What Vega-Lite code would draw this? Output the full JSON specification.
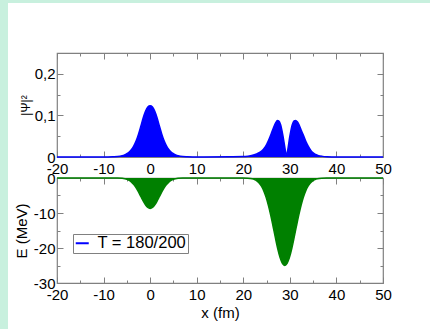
{
  "$schema": "https://vega.github.io/schema/vega-lite/v6.json",
  "padding": 0,
  "background": "white",
  "config": {
    "font": "Liberation Sans",
    "view": {"stroke": "#808080", "strokeWidth": 1.2},
    "axis": {"domain": false, "grid": false, "tickColor": "#808080", "labelColor": "black", "titleColor": "black", "titleFontWeight": "normal", "labelFlush": false, "labelOverlap": false, "labelBound": false, "zindex": 1}
  },
  "spacing": 0,
  "bounds": "flush",
  "vconcat": [
    {"width": 430, "height": 3, "data": {"values": []}, "mark": "point", "view": {"fill": "#c8f0de", "stroke": null}},
    {
      "spacing": 49,
      "bounds": "flush",
      "hconcat": [
        {"width": 8, "height": 326, "data": {"values": []}, "mark": "point", "view": {"fill": "#c8f0de", "stroke": null}},
        {
          "spacing": 0,
          "bounds": "flush",
          "vconcat": [
            {"width": 326, "height": 50, "data": {"values": []}, "mark": "point", "view": {"stroke": null}},
            {
              "spacing": 21,
              "bounds": "flush",
              "vconcat": [
                {
                  "width": 326,
                  "height": 104,
                  "data": {"values": [
                    {"x": -20, "p": 0}, {"x": -10, "p": 0}, {"x": -8, "p": 0.0005}, {"x": -7, "p": 0.001}, {"x": -6, "p": 0.003},
                    {"x": -5.5, "p": 0.005}, {"x": -5, "p": 0.008}, {"x": -4.5, "p": 0.012}, {"x": -4, "p": 0.018}, {"x": -3.5, "p": 0.027},
                    {"x": -3, "p": 0.039}, {"x": -2.5, "p": 0.055}, {"x": -2, "p": 0.074}, {"x": -1.5, "p": 0.094}, {"x": -1, "p": 0.11},
                    {"x": -0.5, "p": 0.12}, {"x": 0, "p": 0.123}, {"x": 0.5, "p": 0.12}, {"x": 1, "p": 0.11}, {"x": 1.5, "p": 0.094},
                    {"x": 2, "p": 0.074}, {"x": 2.5, "p": 0.055}, {"x": 3, "p": 0.039}, {"x": 3.5, "p": 0.027}, {"x": 4, "p": 0.018},
                    {"x": 4.5, "p": 0.012}, {"x": 5, "p": 0.008}, {"x": 5.5, "p": 0.005}, {"x": 6, "p": 0.003}, {"x": 7, "p": 0.001},
                    {"x": 8, "p": 0.0005}, {"x": 10, "p": 0}, {"x": 17, "p": 0.0005}, {"x": 20, "p": 0.001}, {"x": 21, "p": 0.002},
                    {"x": 22, "p": 0.004}, {"x": 23, "p": 0.008}, {"x": 24, "p": 0.015}, {"x": 24.5, "p": 0.021}, {"x": 25, "p": 0.03},
                    {"x": 25.5, "p": 0.042}, {"x": 26, "p": 0.056}, {"x": 26.5, "p": 0.071}, {"x": 27, "p": 0.083}, {"x": 27.3, "p": 0.088},
                    {"x": 27.6, "p": 0.087}, {"x": 28, "p": 0.078}, {"x": 28.5, "p": 0.052}, {"x": 29, "p": 0.018}, {"x": 29.25, "p": 0.002},
                    {"x": 29.5, "p": 0.014}, {"x": 30, "p": 0.05}, {"x": 30.5, "p": 0.077}, {"x": 30.9, "p": 0.087}, {"x": 31.2, "p": 0.088},
                    {"x": 31.6, "p": 0.085}, {"x": 32, "p": 0.077}, {"x": 32.5, "p": 0.063}, {"x": 33, "p": 0.05}, {"x": 33.5, "p": 0.036},
                    {"x": 34, "p": 0.025}, {"x": 34.5, "p": 0.016}, {"x": 35, "p": 0.01}, {"x": 36, "p": 0.004}, {"x": 37, "p": 0.0015},
                    {"x": 38, "p": 0.0005}, {"x": 40, "p": 0}, {"x": 50, "p": 0}
                  ]},
                  "layer": [
                    {
                      "mark": {"type": "area", "color": "#0000ff", "interpolate": "monotone"},
                      "encoding": {
                        "x": {"field": "x", "type": "quantitative", "scale": {"domain": [-20, 50], "nice": false},
                          "axis": {"orient": "bottom", "values": [-20, -10, 0, 10, 20, 30, 40, 50], "tickSize": -6, "labelFontSize": 15, "labelPadding": 10,
                            "labelExpr": "replace(format(datum.value, 'd'), '−', '-')", "title": null}},
                        "y": {"field": "p", "type": "quantitative", "scale": {"domain": [0, 0.25], "nice": false},
                          "axis": {"orient": "left", "values": [0, 0.1, 0.2], "tickSize": -6, "labelFontSize": 15, "labelPadding": 8,
                            "labelExpr": "datum.value == 0 ? '0' : replace(format(datum.value, '.1f'), '.', ',')",
                            "title": "|Ψ|²", "titleFontSize": 12, "titlePadding": 2}}
                      }
                    },
                    {
                      "mark": {"type": "line", "strokeWidth": 1.5, "interpolate": "monotone"},
                      "encoding": {
                        "x": {"field": "x", "type": "quantitative",
                          "axis": {"orient": "top", "values": [-20, -10, 0, 10, 20, 30, 40, 50], "tickSize": -6, "labels": false, "title": null}},
                        "y": {"field": "p", "type": "quantitative",
                          "axis": {"orient": "right", "values": [0, 0.1, 0.2], "tickSize": -6, "labels": false, "title": null}},
                        "color": {"datum": "T = 180/200", "type": "nominal", "scale": {"range": ["#0000ff"]},
                          "legend": {"orient": "none", "legendX": 73, "legendY": 234, "title": null, "symbolType": "stroke", "symbolStrokeWidth": 2, "symbolSize": 169,
                            "labelFontSize": 16.5, "labelColor": "black", "strokeColor": "#808080", "fillColor": "white", "padding": 1, "labelOffset": 7}}
                      }
                    },
                    {
                      "mark": {"type": "point", "opacity": 0},
                      "encoding": {
                        "x": {"field": "x", "type": "quantitative",
                          "axis": {"orient": "bottom", "values": [-15, -5, 5, 15, 25, 35, 45], "tickSize": -3, "labels": false, "title": null}},
                        "y": {"field": "p", "type": "quantitative",
                          "axis": {"orient": "left", "values": [0.05, 0.15], "tickSize": -3, "labels": false, "title": null}}
                      }
                    },
                    {
                      "mark": {"type": "point", "opacity": 0},
                      "encoding": {
                        "x": {"field": "x", "type": "quantitative",
                          "axis": {"orient": "top", "values": [-15, -5, 5, 15, 25, 35, 45], "tickSize": -3, "labels": false, "title": null}},
                        "y": {"field": "p", "type": "quantitative",
                          "axis": {"orient": "right", "values": [0.05, 0.15], "tickSize": -3, "labels": false, "title": null}}
                      }
                    }
                  ],
                  "resolve": {"axis": {"x": "independent", "y": "independent"}}
                },
                {
                  "width": 326,
                  "height": 105,
                  "data": {"values": [
                    {"x": -20, "E": 0}, {"x": -10, "E": 0}, {"x": -8, "E": 0}, {"x": -7, "E": -0.02}, {"x": -6, "E": -0.1},
                    {"x": -5, "E": -0.38}, {"x": -4.5, "E": -0.69}, {"x": -4, "E": -1.18}, {"x": -3.5, "E": -1.88}, {"x": -3, "E": -2.82},
                    {"x": -2.5, "E": -3.98}, {"x": -2, "E": -5.28}, {"x": -1.5, "E": -6.57}, {"x": -1, "E": -7.68}, {"x": -0.5, "E": -8.43},
                    {"x": 0, "E": -8.7}, {"x": 0.5, "E": -8.43}, {"x": 1, "E": -7.68}, {"x": 1.5, "E": -6.57}, {"x": 2, "E": -5.28},
                    {"x": 2.5, "E": -3.98}, {"x": 3, "E": -2.82}, {"x": 3.5, "E": -1.88}, {"x": 4, "E": -1.18}, {"x": 4.5, "E": -0.69},
                    {"x": 5, "E": -0.38}, {"x": 6, "E": -0.1}, {"x": 7, "E": -0.02}, {"x": 8, "E": 0}, {"x": 19.9, "E": -0.01},
                    {"x": 20.9, "E": -0.06}, {"x": 21.9, "E": -0.24}, {"x": 22.4, "E": -0.46}, {"x": 22.9, "E": -0.83}, {"x": 23.4, "E": -1.43},
                    {"x": 23.9, "E": -2.35}, {"x": 24.4, "E": -3.69}, {"x": 24.9, "E": -5.51}, {"x": 25.4, "E": -7.86}, {"x": 25.9, "E": -10.68},
                    {"x": 26.4, "E": -13.85}, {"x": 26.9, "E": -17.13}, {"x": 27.4, "E": -20.21}, {"x": 27.9, "E": -22.75}, {"x": 28.4, "E": -24.41},
                    {"x": 28.9, "E": -25}, {"x": 29.4, "E": -24.41}, {"x": 29.9, "E": -22.75}, {"x": 30.4, "E": -20.21}, {"x": 30.9, "E": -17.13},
                    {"x": 31.4, "E": -13.85}, {"x": 31.9, "E": -10.68}, {"x": 32.4, "E": -7.86}, {"x": 32.9, "E": -5.51}, {"x": 33.4, "E": -3.69},
                    {"x": 33.9, "E": -2.35}, {"x": 34.4, "E": -1.43}, {"x": 34.9, "E": -0.83}, {"x": 35.4, "E": -0.46}, {"x": 35.9, "E": -0.24},
                    {"x": 36.9, "E": -0.06}, {"x": 37.9, "E": -0.01}, {"x": 40, "E": 0}, {"x": 50, "E": 0}
                  ]},
                  "layer": [
                    {
                      "mark": {"type": "area", "color": "#008000", "interpolate": "monotone"},
                      "encoding": {
                        "x": {"field": "x", "type": "quantitative", "scale": {"domain": [-20, 50], "nice": false},
                          "axis": {"orient": "bottom", "values": [-20, -10, 0, 10, 20, 30, 40, 50], "tickSize": -6, "labelFontSize": 15, "labelPadding": 10,
                            "labelExpr": "replace(format(datum.value, 'd'), '−', '-')",
                            "title": "x (fm)", "titleFontSize": 15, "titlePadding": 3}},
                        "y": {"field": "E", "type": "quantitative", "scale": {"domain": [-30, 0], "nice": false},
                          "axis": {"orient": "left", "values": [0, -10, -20, -30], "tickSize": -6, "labelFontSize": 15, "labelPadding": 8,
                            "labelExpr": "replace(format(datum.value, 'd'), '−', '-')",
                            "title": "E (MeV)", "titleFontSize": 15, "titlePadding": 4}}
                      }
                    },
                    {
                      "mark": {"type": "line", "color": "#008000", "strokeWidth": 1.5, "interpolate": "monotone"},
                      "encoding": {
                        "x": {"field": "x", "type": "quantitative",
                          "axis": {"orient": "top", "values": [-20, -10, 0, 10, 20, 30, 40, 50], "tickSize": -6, "labels": false, "title": null}},
                        "y": {"field": "E", "type": "quantitative",
                          "axis": {"orient": "right", "values": [0, -10, -20, -30], "tickSize": -6, "labels": false, "title": null}}
                      }
                    },
                    {
                      "mark": {"type": "point", "opacity": 0},
                      "encoding": {
                        "x": {"field": "x", "type": "quantitative",
                          "axis": {"orient": "bottom", "values": [-15, -5, 5, 15, 25, 35, 45], "tickSize": -3, "labels": false, "title": null}},
                        "y": {"field": "E", "type": "quantitative",
                          "axis": {"orient": "left", "values": [-5, -15, -25], "tickSize": -3, "labels": false, "title": null}}
                      }
                    },
                    {
                      "mark": {"type": "point", "opacity": 0},
                      "encoding": {
                        "x": {"field": "x", "type": "quantitative",
                          "axis": {"orient": "top", "values": [-15, -5, 5, 15, 25, 35, 45], "tickSize": -3, "labels": false, "title": null}},
                        "y": {"field": "E", "type": "quantitative",
                          "axis": {"orient": "right", "values": [-5, -15, -25], "tickSize": -3, "labels": false, "title": null}}
                      }
                    }
                  ],
                  "resolve": {"axis": {"x": "independent", "y": "independent"}}
                }
              ]
            }
          ]
        }
      ]
    }
  ]
}
